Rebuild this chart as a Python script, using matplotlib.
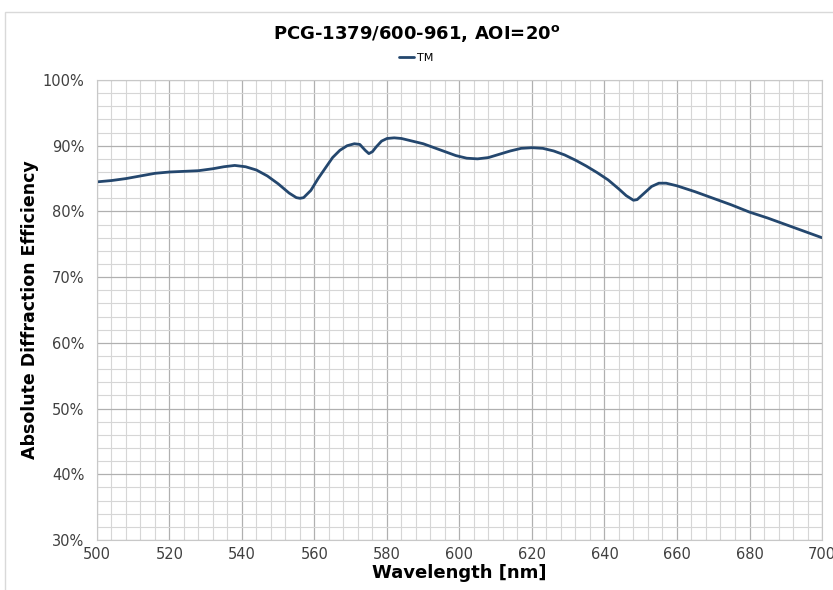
import matplotlib.pyplot as plt
from matplotlib.patches import Rectangle
from matplotlib.ticker import MultipleLocator, PercentFormatter

wavelength = [500, 504, 508, 512, 516, 520, 524, 528, 532, 535, 538, 541, 544, 547,
              550, 553, 555, 556, 557, 559, 561, 563, 565, 567, 569, 571, 572.5, 574,
              575, 576, 577, 578.5, 580, 582, 584, 587, 590, 593, 596, 599, 602, 605,
              608, 611, 614, 617, 620, 623, 626, 629, 632, 635, 638, 641, 644, 646,
              648, 649, 651, 653, 655, 657, 660, 665, 670, 675, 680, 685, 690, 695, 700]
tm_eff = [84.5, 84.7, 85.0, 85.4, 85.8, 86.0, 86.1, 86.2, 86.5, 86.8, 87.0, 86.8, 86.3, 85.4,
          84.2, 82.8, 82.1, 82.0, 82.1, 83.2, 85.0, 86.6, 88.2, 89.3, 90.0, 90.3, 90.2, 89.3,
          88.8, 89.1, 89.8, 90.7, 91.1, 91.2, 91.1, 90.7, 90.3, 89.7, 89.1, 88.5, 88.1, 88.0,
          88.2, 88.7, 89.2, 89.6, 89.7, 89.6, 89.2, 88.6, 87.8, 86.9, 85.9, 84.8, 83.4, 82.4,
          81.7, 81.8, 82.8, 83.8, 84.3, 84.3, 83.9, 83.0, 82.0, 81.0, 79.9, 79.0, 78.0, 77.0, 76.0]

fig = plt.figure(figsize=(8.33, 5.9), dpi=100)
fig.patches.append(Rectangle((0.006, -0.01), 1.0, 0.99, transform=fig.transFigure,
                             fill=False, edgecolor="#d9d9d9", linewidth=1))
ax = fig.add_axes([0.1164, 0.0847, 0.8704, 0.7797])

ax.plot(wavelength, tm_eff, color="#24476e", linewidth=2.0, label="TM",
        solid_joinstyle="round", solid_capstyle="round")

ax.set_xlim(500, 700)
ax.set_ylim(30, 100)
ax.xaxis.set_major_locator(MultipleLocator(20))
ax.xaxis.set_minor_locator(MultipleLocator(4))
ax.yaxis.set_major_locator(MultipleLocator(10))
ax.yaxis.set_minor_locator(MultipleLocator(2))
ax.yaxis.set_major_formatter(PercentFormatter(decimals=0))
ax.grid(which="major", color="#b0b0b0", linewidth=0.9)
ax.grid(which="minor", color="#d6d6d6", linewidth=0.8)
ax.set_axisbelow(True)
ax.tick_params(which="both", length=0, labelsize=10.5, colors="#404040")
ax.tick_params(axis="x", pad=5)
ax.tick_params(axis="y", pad=9)
for s in ax.spines.values():
    s.set_color("#c8c8c8")

ax.set_xlabel("Wavelength [nm]", fontsize=13, fontweight="bold", va="center")
ax.xaxis.set_label_coords(0.5, -0.072)
ax.set_ylabel("Absolute Diffraction Efficiency", fontsize=12.5, fontweight="bold", va="center")
ax.yaxis.set_label_coords(-0.0924, 0.5)
fig.text(0.5, 0.944, r"PCG-1379/600-961, AOI=20$^\mathbf{o}$", ha="center", va="center",
         fontsize=13, fontweight="bold")
fig.legend(loc="center", bbox_to_anchor=(0.5, 0.902), frameon=False, fontsize=8,
           handlelength=1.3, handletextpad=0.3)

fig.savefig("out.png", dpi=100)
